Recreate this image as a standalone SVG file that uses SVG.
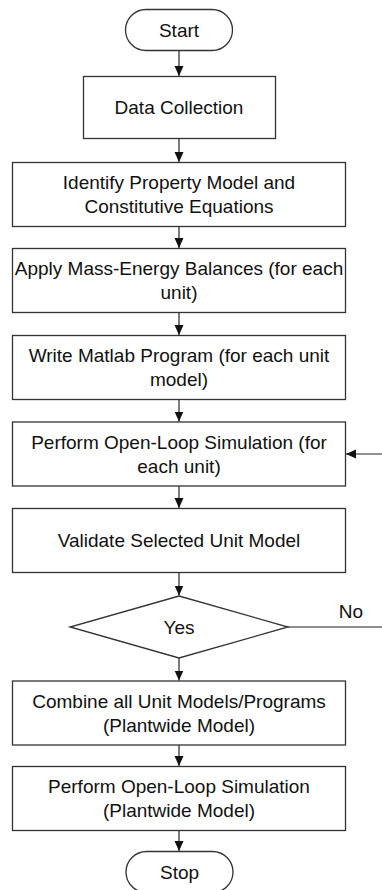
<svg xmlns="http://www.w3.org/2000/svg" width="382" height="890" viewBox="0 0 382 890">
<style>
.box{fill:#fff;stroke:#333;stroke-width:1.3}
.ln{fill:none;stroke:#222;stroke-width:1.2}
text{font-family:"Liberation Sans",Arial,sans-serif;font-size:19px;fill:#111;text-anchor:middle}
</style>
<defs>
<marker id="ah" markerUnits="userSpaceOnUse" markerWidth="10" markerHeight="12" viewBox="0 0 10 12" refX="10" refY="6" orient="auto">
<path d="M0,1.5 L10,6 L0,10.5 Z" fill="#111"/>
</marker>
</defs>
<rect width="382" height="890" fill="#fff"/>
<g id="connectors">
<line class="ln" x1="179" y1="50.5" x2="179" y2="76" marker-end="url(#ah)"/>
<line class="ln" x1="179" y1="138.5" x2="179" y2="162" marker-end="url(#ah)"/>
<line class="ln" x1="179" y1="226.5" x2="179" y2="248" marker-end="url(#ah)"/>
<line class="ln" x1="179" y1="312.5" x2="179" y2="335" marker-end="url(#ah)"/>
<line class="ln" x1="179" y1="399.5" x2="179" y2="421.5" marker-end="url(#ah)"/>
<line class="ln" x1="179" y1="486" x2="179" y2="508" marker-end="url(#ah)"/>
<line class="ln" x1="179" y1="572.5" x2="179" y2="595.5" marker-end="url(#ah)"/>
<line class="ln" x1="179" y1="658" x2="179" y2="680.5" marker-end="url(#ah)"/>
<line class="ln" x1="179" y1="745" x2="179" y2="766" marker-end="url(#ah)"/>
<line class="ln" x1="179" y1="830.5" x2="179" y2="851" marker-end="url(#ah)"/>
<line class="ln" x1="288" y1="627" x2="382" y2="627"/>
<line class="ln" x1="382" y1="454" x2="346" y2="454" marker-end="url(#ah)"/>
<text x="351" y="618">No</text>
</g>
<g id="start"><rect class="box" x="125.5" y="9.5" width="107" height="41" rx="20.5"/><text x="179" y="37">Start</text></g>
<g id="data"><rect class="box" x="83.5" y="76.5" width="192" height="62"/><text x="179" y="114">Data Collection</text></g>
<g id="identify"><rect class="box" x="12.5" y="162.5" width="333" height="64"/><text x="179" y="189">Identify Property Model and</text><text x="179" y="213">Constitutive Equations</text></g>
<g id="apply"><rect class="box" x="12.5" y="248.5" width="333" height="64"/><text x="179" y="275">Apply Mass-Energy Balances (for each</text><text x="179" y="299">unit)</text></g>
<g id="write"><rect class="box" x="12.5" y="335.5" width="333" height="64"/><text x="179" y="362">Write Matlab Program (for each unit</text><text x="179" y="386">model)</text></g>
<g id="perform1"><rect class="box" x="12.5" y="422" width="333" height="64"/><text x="179" y="449">Perform Open-Loop Simulation (for</text><text x="179" y="473">each unit)</text></g>
<g id="validate"><rect class="box" x="12.5" y="508.5" width="333" height="64"/><text x="179" y="547">Validate Selected Unit Model</text></g>
<g id="decision"><polygon class="box" points="179,596 288,627 179,658 70,627"/><text x="179" y="634">Yes</text></g>
<g id="combine"><rect class="box" x="12.5" y="681" width="333" height="64"/><text x="179" y="708">Combine all Unit Models/Programs</text><text x="179" y="732">(Plantwide Model)</text></g>
<g id="perform2"><rect class="box" x="12.5" y="766.5" width="333" height="64"/><text x="179" y="793">Perform Open-Loop Simulation</text><text x="179" y="817">(Plantwide Model)</text></g>
<g id="stop"><rect class="box" x="126" y="851.5" width="107" height="41" rx="20.5"/><text x="179.5" y="879">Stop</text></g>
</svg>
